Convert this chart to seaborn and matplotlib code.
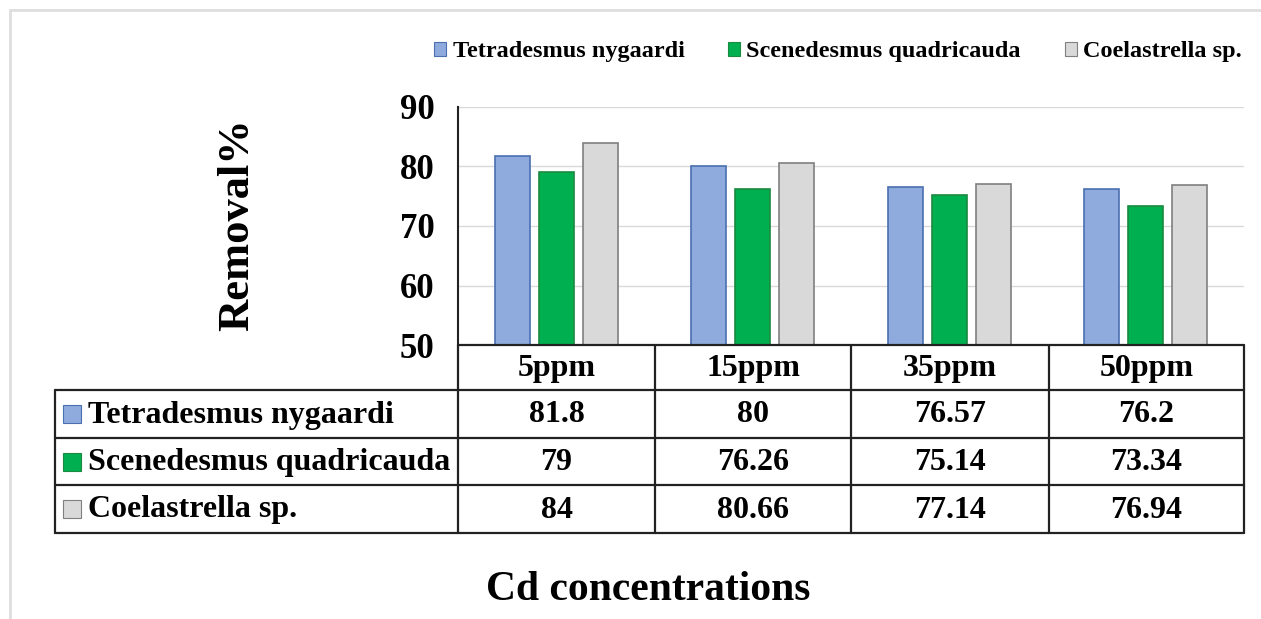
import numpy as np
import pandas as pd
import matplotlib
matplotlib.use("Agg")
import matplotlib.pyplot as plt
import seaborn as sns
from matplotlib.patches import Rectangle

concentrations = ['5ppm', '15ppm', '35ppm', '50ppm']
species = ['Tetradesmus nygaardi', 'Scenedesmus quadricauda', 'Coelastrella sp.']
tetradesmus = [81.8, 80, 76.57, 76.2]
scenedesmus = [79, 76.26, 75.14, 73.34]
coelastrella = [84, 80.66, 77.14, 76.94]
table_text = [['81.8', '80', '76.57', '76.2'],
              ['79', '76.26', '75.14', '73.34'],
              ['84', '80.66', '77.14', '76.94']]
colors = ['#8faadc', '#00b050', '#d9d9d9']
edges = ['#4a6fb0', '#1a8a40', '#7f7f7f']

df = pd.DataFrame({
    'conc': concentrations * 3,
    'species': np.repeat(species, 4),
    'removal': tetradesmus + scenedesmus + coelastrella,
})

sns.set_style('white')
plt.rcParams['font.family'] = ['Liberation Serif', 'DejaVu Serif']
plt.rcParams['font.weight'] = 'bold'
plt.rcParams['text.color'] = 'black'
plt.rcParams['ytick.color'] = 'black'

W, H = 1261, 619
fig = plt.figure(figsize=(12.61, 6.19), dpi=100)

def fx(px):
    return px / W

def fy(py):
    return 1 - py / H

# bar chart
ax = fig.add_axes([fx(458), fy(345), fx(1244) - fx(458), fy(107) - fy(345)])
sns.barplot(data=df, x='conc', y='removal', hue='species', palette=colors,
            saturation=1, width=0.67, gap=0.2, ax=ax, legend=False, linewidth=1.2)
for i, cont in enumerate(ax.containers):
    for bar in cont:
        bar.set_edgecolor(edges[i])
ax.set_ylim(50, 90)
ax.set_xlim(-0.5, 3.5)
ax.set_yticks([50, 60, 70, 80, 90])
ax.yaxis.grid(True, color='#d9d9d9', lw=1)
ax.set_axisbelow(True)
ax.set_xticks([])
ax.set_xlabel('')
ax.set_ylabel('')
for s in ['top', 'right', 'bottom']:
    ax.spines[s].set_visible(False)
ax.spines['left'].set_color('#222222')
ax.spines['left'].set_linewidth(1.5)
ax.tick_params(axis='y', labelsize=25, pad=17, length=0)
for t in ax.get_yticklabels():
    t.set_fontweight('bold')

# data table
tax = fig.add_axes([0, 0, 1, 1])
tax.set_xlim(0, W)
tax.set_ylim(H, 0)
tax.axis('off')
col_x = [458, 655, 851, 1049, 1244]
row_y = [345, 390, 438, 485, 533]
lw = 1.6
lc = '#222222'
tax.plot([col_x[0], col_x[-1]], [row_y[0], row_y[0]], color=lc, lw=lw)
for y in row_y[1:]:
    tax.plot([55, col_x[-1]], [y, y], color=lc, lw=lw)
for x in col_x:
    tax.plot([x, x], [row_y[0], row_y[-1]], color=lc, lw=lw)
tax.plot([55, 55], [row_y[1], row_y[-1]], color=lc, lw=lw)

fs = 23
for j, c in enumerate(concentrations):
    tax.text((col_x[j] + col_x[j + 1]) / 2, (row_y[0] + row_y[1]) / 2 + 1, c,
             ha='center', va='center', fontsize=fs, fontweight='bold')
for i, sp in enumerate(species):
    yc = (row_y[i + 1] + row_y[i + 2]) / 2
    tax.add_patch(Rectangle((63, yc - 9), 18, 18, facecolor=colors[i],
                            edgecolor=edges[i], lw=0.8))
    tax.text(88, yc + 1, sp, ha='left', va='center', fontsize=fs, fontweight='bold')
    for j in range(4):
        tax.text((col_x[j] + col_x[j + 1]) / 2, yc + 1, table_text[i][j],
                 ha='center', va='center', fontsize=fs, fontweight='bold')

# light frame on left/top
tax.plot([10, 10], [10, H], color='#dedede', lw=2)
tax.plot([10, W], [10, 10], color='#dedede', lw=2)

# legend
handles = [Rectangle((0, 0), 1, 1, facecolor=colors[i], edgecolor=edges[i], lw=0.8)
           for i in range(3)]
fig.legend(handles, species, loc='center', bbox_to_anchor=(fx(838), fy(52)),
           ncol=3, frameon=False, handlelength=0.5, handleheight=0.5,
           handletextpad=0.25, columnspacing=1.8,
           prop={'weight': 'bold', 'size': 17.5})

fig.text(fx(237), fy(225), 'Removal%', rotation=90, ha='center', va='center',
         fontsize=32, fontweight='bold')
fig.text(fx(648), fy(590), 'Cd concentrations', ha='center', va='center',
         fontsize=30, fontweight='bold')

fig.savefig('out.png', dpi=100, facecolor='white')
